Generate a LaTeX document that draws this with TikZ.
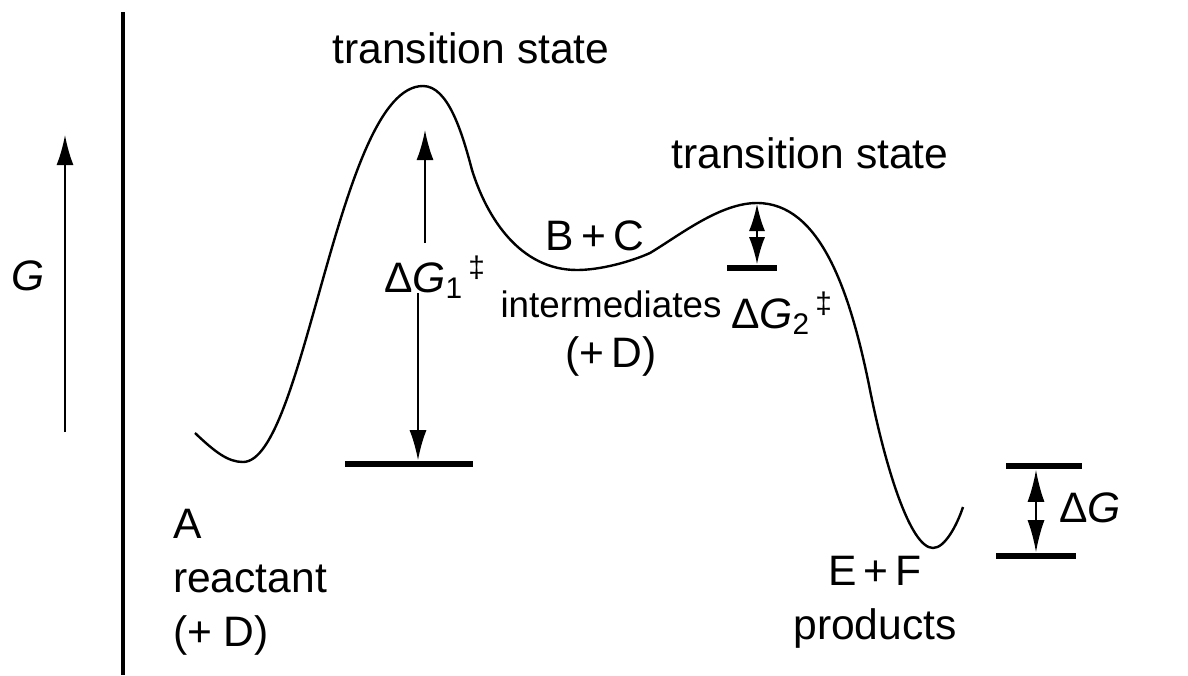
\documentclass[tikz,border=0pt]{standalone}
\usepackage{fontspec}
\setmainfont{Liberation Sans}
\usetikzlibrary{arrows.meta}
\tikzset{
  dgm/.style={font=\fontsize{21.3}{27}\selectfont,
              >={Latex[length=15pt, width=8.5pt]}, line width=1pt},
  lbl/.style={inner sep=0pt, align=center},
  bar/.style={fill=black, inner sep=0pt, minimum height=2.8pt},
  crv/.style={line width=1.2pt},
  ar/.style={->}
}
\newcommand{\dGact}[1]{Δ\textit{G}\textsubscript{#1}\kern2.5pt\textsuperscript{‡}}

\begin{document}
\begin{tikzpicture}[dgm, x=0.5pt, y=-0.5pt]
    \useasboundingbox (0,0) rectangle (1188,675);

    % G axis
    \draw[line width=1.7pt] (123,12) -- (123,675);
    \coordinate (g0) at (65,432);
    \coordinate (g1) at (65,135);
    \draw[ar] (g0) -- (g1);
    \node[lbl] (glab) at (28,276) {\textit{G}};

    % free energy profile
    \draw[crv] (195,433) .. controls (215,452) and (228,462) .. (243,462)
      .. controls (305,462) and (338,86) .. (423,86)
      .. controls (448,86) and (462,132) .. (472,170)
      .. controls (487,218) and (520,270) .. (577,270)
      .. controls (600,270) and (630,262) .. (650,253)
      .. controls (680,235) and (720,203) .. (757,203)
      .. controls (820,203) and (850,290) .. (870,390)
      .. controls (885,465) and (910,548) .. (933,548)
      .. controls (945,548) and (957,525) .. (963,507);

    \node[lbl] (ts1) at (471,48) {transition state};
    \node[lbl] (ts2) at (810,153) {transition state};
    \node[lbl, align=left, anchor=west] (reac) at (172,582) {A\\reactant\\(+ D)};
    \node[lbl] (bc) at (595,236) {B\,+\,C};
    \node[lbl, font=\fontsize{21.3}{25}\selectfont] (inter) at (611,334)
         {{\fontsize{18.4}{22}\selectfont intermediates}\\(+\,D)};
    \node[lbl] (prod) at (875,602) {E\,+\,F\\products};

    % levels
    \node[bar, minimum width=64pt] (b1) at (409,464) {};
    \node[bar, minimum width=25pt] (b2) at (752,268) {};
    \node[bar, minimum width=38pt] (b3) at (1044,466) {};
    \node[bar, minimum width=40pt] (b4) at (1036,556) {};

    % barriers
    \node[lbl] (dg1) at (435,277) {\dGact{1}};
    \coordinate (t1) at (425,130);
    \coordinate (u1) at (425,243);
    \coordinate (d1) at (418,293);
    \draw[ar] (u1) -- (t1);
    \draw[ar] (d1) -- (d1 |- b1.north);

    \node[lbl] (dg2) at (782,313) {\dGact{2}};
    \coordinate (p2) at (757,204);
    \draw[<->, >={Latex[length=13.5pt, width=8pt]}] (p2) -- (p2 |- b2.north);

    \node[lbl] (dg) at (1090,508) {Δ\textit{G}};
    \draw[<->, >={Latex[length=16pt, width=8.5pt]}] (b4 |- b3.south) -- (b4.north);
\end{tikzpicture}
\end{document}
